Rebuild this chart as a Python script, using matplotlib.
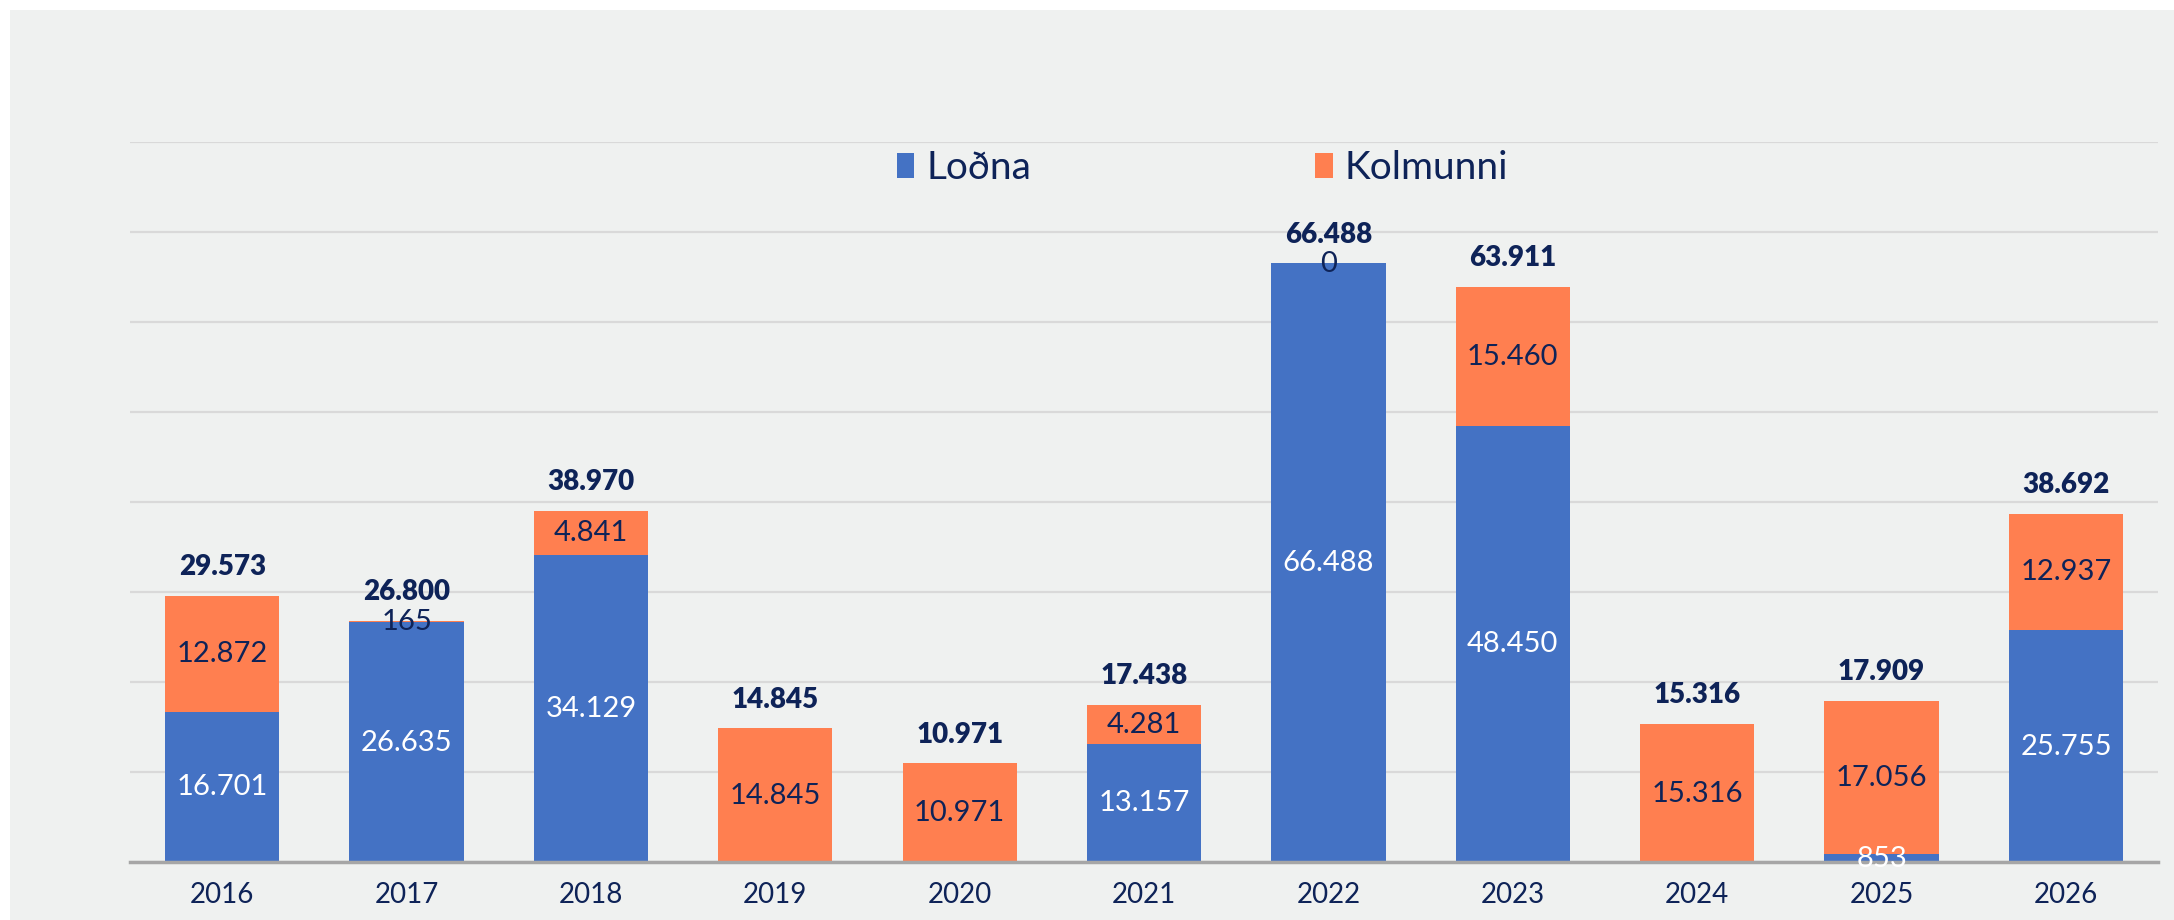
import matplotlib.pyplot as plt
from matplotlib.patches import Patch, Rectangle

years = ['2016', '2017', '2018', '2019', '2020', '2021', '2022', '2023', '2024', '2025', '2026']
lodna = [16701, 26635, 34129, 0, 0, 13157, 66488, 48450, 0, 853, 25755]
kolmunni = [12872, 165, 4841, 14845, 10971, 4281, 0, 15460, 15316, 17056, 12937]
totals = [29573, 26800, 38970, 14845, 10971, 17438, 66488, 63911, 15316, 17909, 38692]

blue = '#4472c4'
orange = '#ff7f50'
navy = '#0e2358'
bg = '#eff1f0'

plt.rcParams['font.family'] = ['Lato', 'DejaVu Sans']


def fmt(v):
    return f'{v:,}'.replace(',', '.')


fig = plt.figure(figsize=(21.74, 9.205), dpi=100)
fig.patches.append(Rectangle((10 / 2174, 0), 1, 1 - 10 / 920, transform=fig.transFigure,
                             facecolor=bg, edgecolor='none', zorder=-10))

ax = fig.add_axes([0.0598, 0.063, 0.9329, 0.7826])
ax.set_facecolor('none')

x = range(len(years))
width = 0.62
ax.bar(x, lodna, width, color=blue, zorder=3)
ax.bar(x, kolmunni, width, bottom=lodna, color=orange, zorder=3)

# labels inside the segments, totals on top
for i in x:
    if lodna[i] > 0:
        ax.text(i, lodna[i] / 2, fmt(lodna[i]), ha='center', va='center',
                color='white', fontsize=21, zorder=5)
    ax.text(i, lodna[i] + kolmunni[i] / 2, fmt(kolmunni[i]), ha='center', va='center',
            color=navy, fontsize=21, zorder=5)
    ax.annotate(fmt(totals[i]), (i, lodna[i] + kolmunni[i]), xytext=(0, 21),
                textcoords='offset points', ha='center', va='center',
                color=navy, fontsize=20, fontweight='heavy', zorder=5)

ax.set_xlim(-0.5, 10.5)
ax.set_ylim(0, 80000)
ax.set_yticks(range(0, 80001, 10000))
ax.set_yticklabels([])
ax.tick_params(axis='y', length=0)
ax.set_xticks(list(x))
ax.set_xticklabels(years, color=navy, fontsize=20)
ax.tick_params(axis='x', length=0, pad=14)
ax.grid(axis='y', color='#d9d9d9', linewidth=1.6, zorder=0)
for s in ['top', 'right', 'left']:
    ax.spines[s].set_visible(False)
ax.spines['bottom'].set_color('#a6a6a6')
ax.spines['bottom'].set_linewidth(2.5)
ax.spines['bottom'].set_zorder(4)

handles = [Patch(facecolor=blue, label='Loðna'), Patch(facecolor=orange, label='Kolmunni')]
leg = fig.legend(handles=handles, loc='center', bbox_to_anchor=(0.553, 0.817), ncol=2,
                 frameon=False, handlelength=0.46, handleheight=0.6,
                 handletextpad=0.3, columnspacing=7.3, fontsize=28)
for t in leg.get_texts():
    t.set_color(navy)

fig.savefig('out.png', dpi=100, facecolor='white')
